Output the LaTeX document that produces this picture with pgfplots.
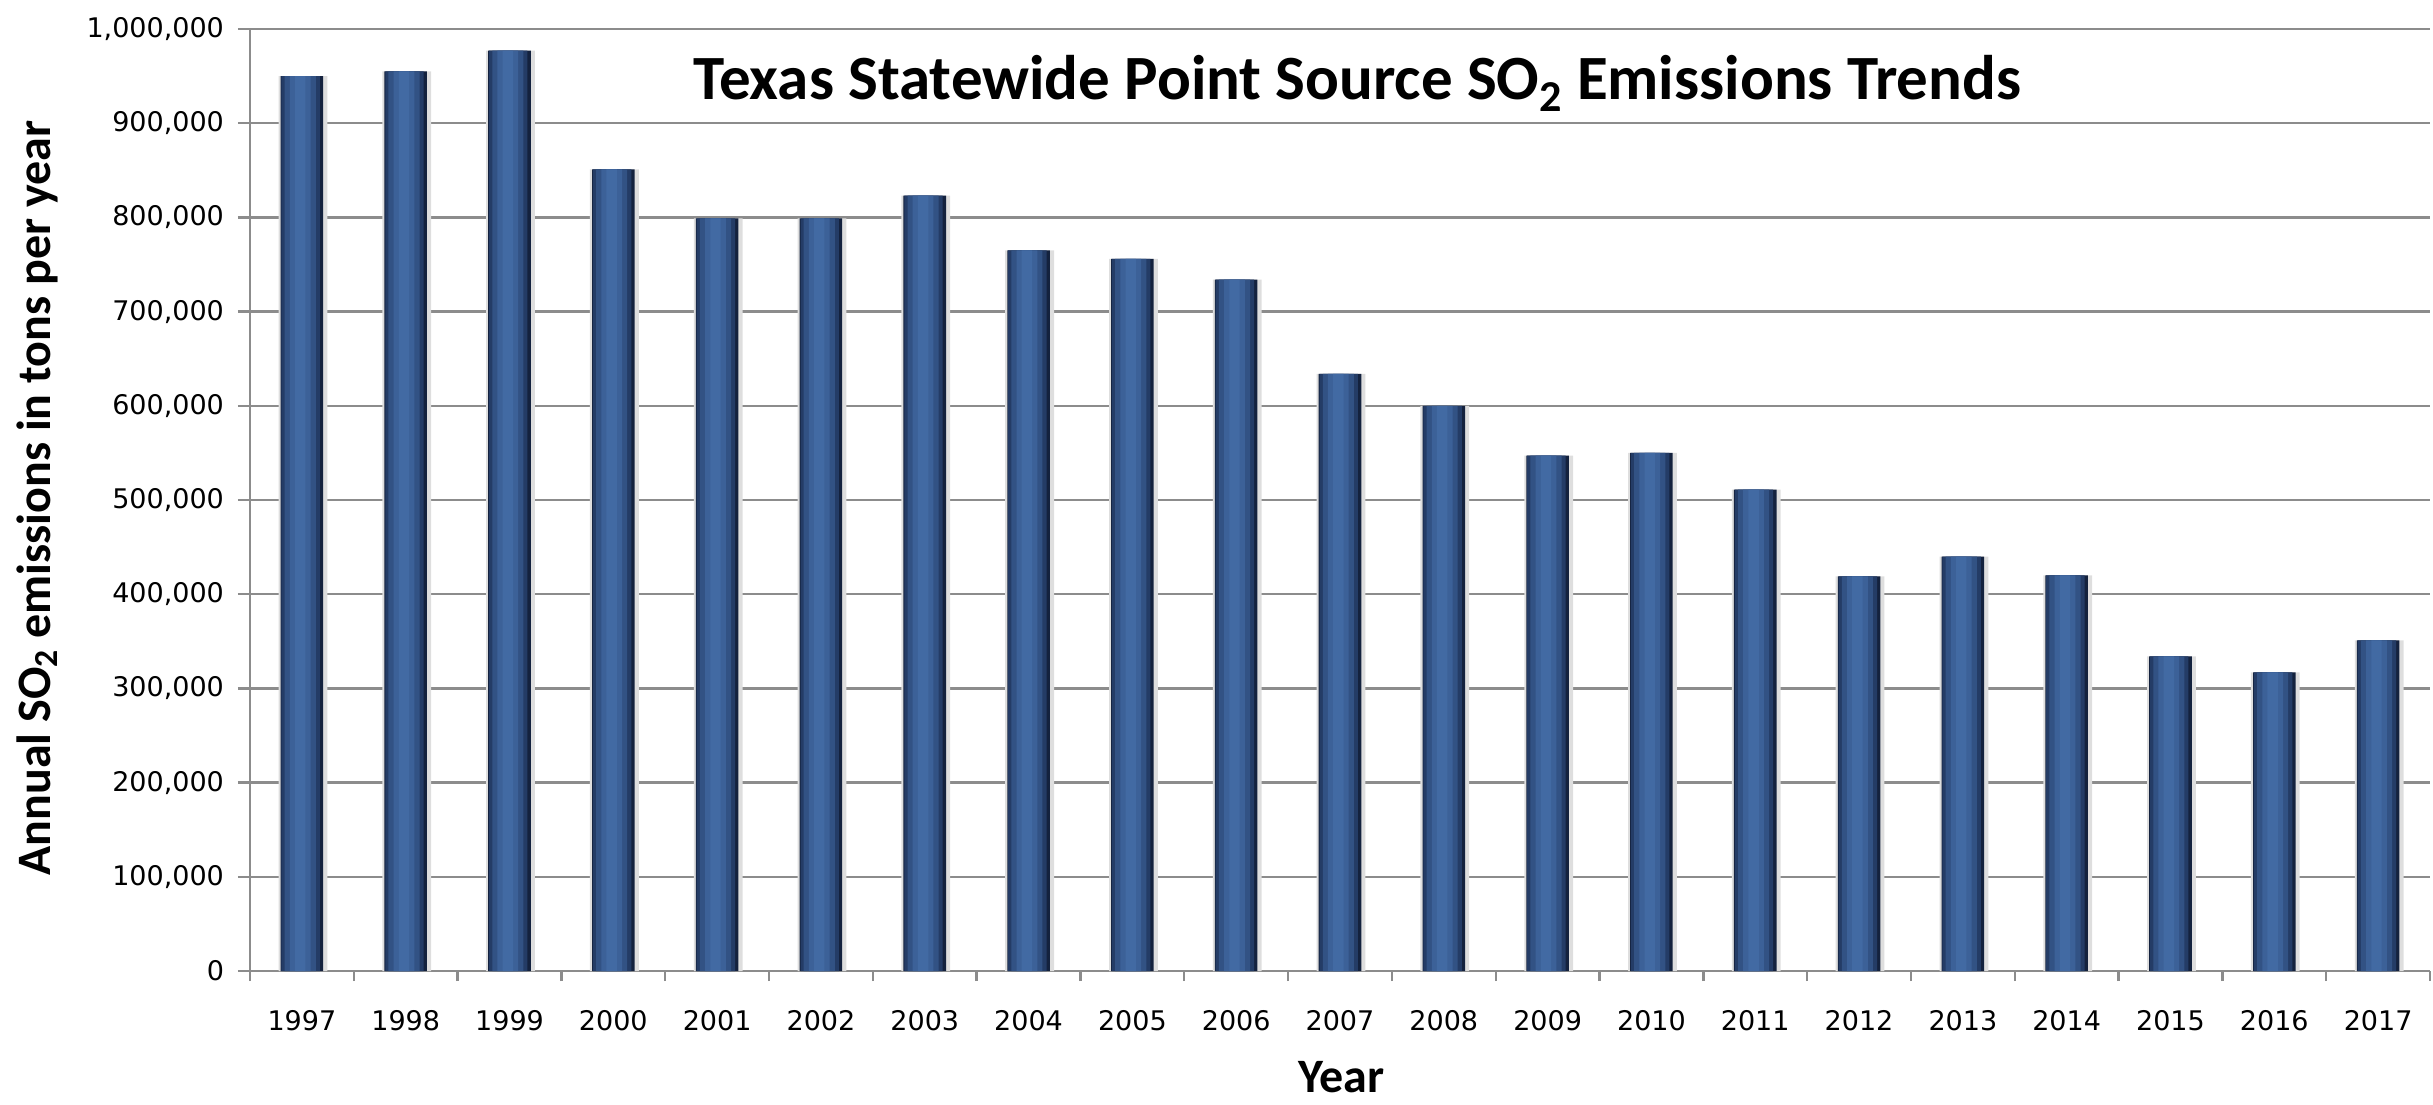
\documentclass[border=0pt]{standalone}
\usepackage{fontspec}
\setmainfont{DejaVu Sans}
\newfontfamily\calib{Carlito}
\usepackage{pgfplots}
\usepackage{pgfplotstable}
\pgfplotsset{compat=1.18}
\definecolor{shadowc}{RGB}{222,222,222}
\definecolor{bar0}{RGB}{20,34,62}
\definecolor{bar1}{RGB}{36,60,102}
\definecolor{bar2}{RGB}{50,82,132}
\definecolor{bar3}{RGB}{60,97,152}
\definecolor{bar4}{RGB}{66,106,163}
\definecolor{gridc}{RGB}{140,140,140}
\pgfplotstableread{
x y
0 950000
1 955000
2 977000
3 851000
4 799000
5 799000
6 823000
7 765000
8 756000
9 734000
10 634000
11 600000
12 547000
13 550000
14 511000
15 419000
16 440000
17 420000
18 334000
19 317000
20 351000
}\datatable
\begin{document}
\begin{tikzpicture}
\begin{axis}[
  scale only axis, width=1090pt, height=471pt,
  xmin=-0.5, xmax=20.5, ymin=0, ymax=1000000,
  axis x line*=bottom, axis y line*=left,
  axis line style={gridc, line width=1.2pt},
  tick align=outside,
  xtick={0,...,20},
  xticklabels={1997,1998,1999,2000,2001,2002,2003,2004,2005,2006,2007,2008,2009,2010,2011,2012,2013,2014,2015,2016,2017},
  minor xtick={-0.5,0.5,...,20.5},
  major x tick style={draw=none},
  minor x tick style={draw=gridc, line width=1.2pt},
  minor tick length=5pt,
  major tick length=6pt,
  ytick={0,100000,...,1000000},
  y tick style={draw=gridc, line width=1.2pt},
  ymajorgrids,
  grid style={gridc, line width=1.2pt},
  scaled y ticks=false,
  /pgf/number format/assume math mode=true,
  yticklabel style={/pgf/number format/.cd, fixed, 1000 sep={,}, /tikz/.cd, font=\fontsize{13.5}{15}\selectfont, xshift=-3.5pt},
  xticklabel style={font=\fontsize{13.5}{15}\selectfont, yshift=-10pt},
  xlabel={Year},
  xlabel style={font=\calib\bfseries\fontsize{24}{28}\selectfont, at={(axis description cs:0.5005,-0.1125)}, anchor=center},
  ylabel={Annual SO\textsubscript{2} emissions in tons per year},
  ylabel style={font=\calib\bfseries\fontsize{24}{28}\selectfont, at={(axis description cs:-0.0977,0.502)}, anchor=center, rotate=0},
  ybar,
]
\addplot[ybar, bar width=0.47, bar shift=0.01, draw=none, fill=shadowc] table[x=x,y=y] {\datatable};
\addplot[ybar, bar width=0.41, bar shift=0, draw=none, fill=bar0] table[x=x,y=y] {\datatable};
\addplot[ybar, bar width=0.37, bar shift=-0.012, draw=none, fill=bar1] table[x=x,y=y] {\datatable};
\addplot[ybar, bar width=0.30, bar shift=-0.016, draw=none, fill=bar2] table[x=x,y=y] {\datatable};
\addplot[ybar, bar width=0.20, bar shift=-0.016, draw=none, fill=bar3] table[x=x,y=y] {\datatable};
\addplot[ybar, bar width=0.10, bar shift=-0.016, draw=none, fill=bar4] table[x=x,y=y] {\datatable};
\node[font=\calib\bfseries\fontsize{31.5}{36}\selectfont] at (rel axis cs:0.508,0.942) {Texas Statewide Point Source SO\textsubscript{2} Emissions Trends};
\coordinate (bl) at (rel axis cs:0,0);
\coordinate (tr) at (rel axis cs:1,1);
\end{axis}
\pgfresetboundingbox
\path[use as bounding box] ([shift={(-125pt,-66.5pt)}]bl) rectangle ([shift={(1.5pt,14.5pt)}]tr);
\end{tikzpicture}
\end{document}
